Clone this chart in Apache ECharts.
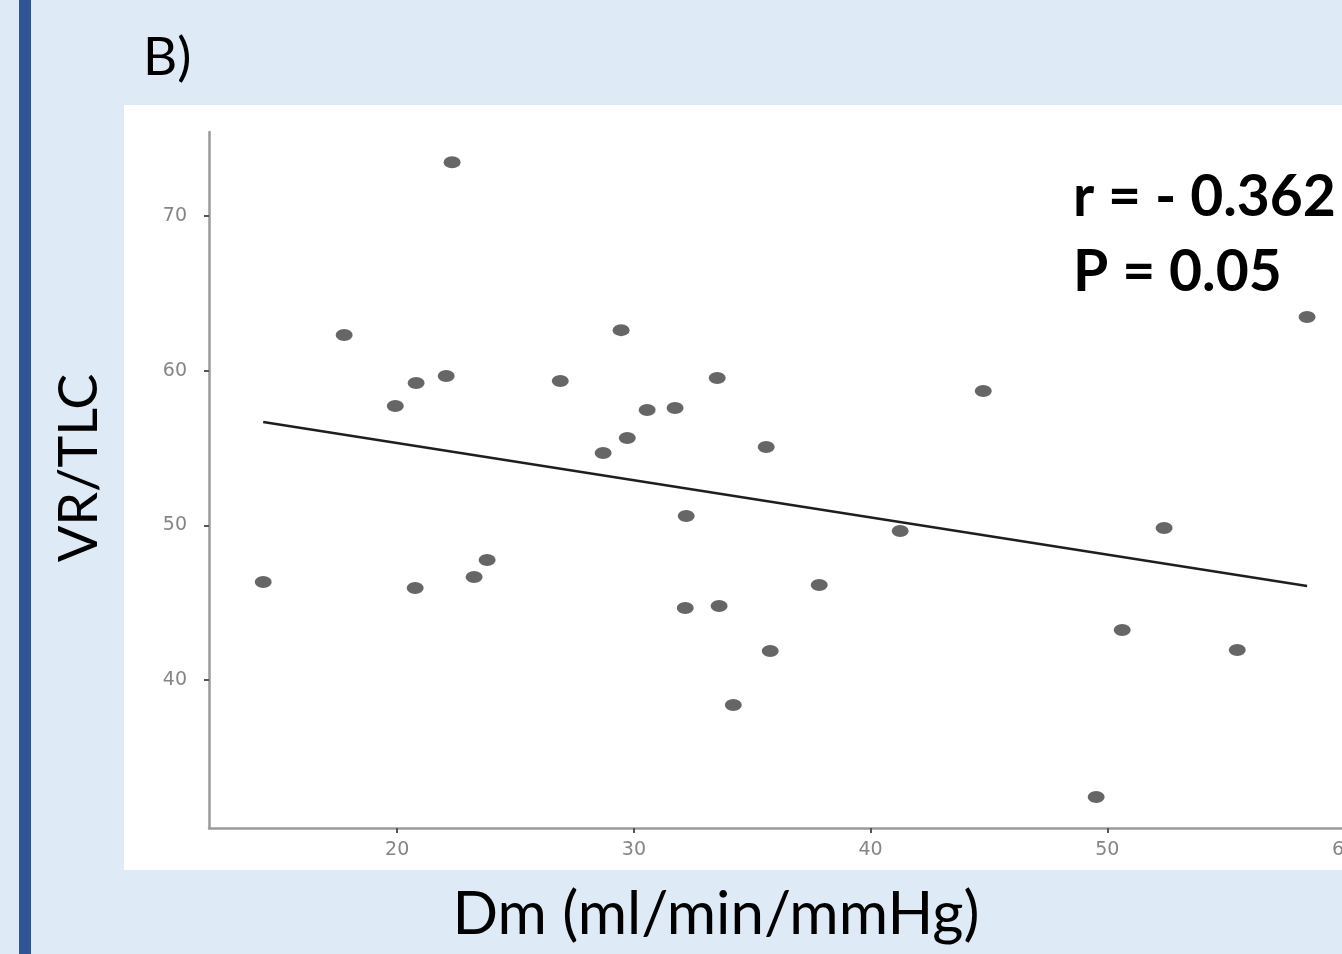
<!DOCTYPE html>
<html>
<head>
<meta charset="utf-8">
<script src="https://cdn.jsdelivr.net/npm/echarts@6/dist/echarts.min.js"></script>
<style>
html,body{margin:0;padding:0;background:#deeaf6;}
#chart{width:1342px;height:954px;}
</style>
</head>
<body>
<div id="chart"></div>
<script>
// Data
const dmValues = [14.34, 17.76, 19.92, 20.80, 20.76, 22.07, 22.32, 23.25, 23.80, 26.89,
  28.70, 29.46, 29.72, 30.56, 31.74, 32.21, 32.17, 33.52, 33.60, 34.20,
  35.59, 35.76, 37.83, 41.25, 44.76, 49.53, 50.63, 52.40, 55.49, 58.44];
const vrTlcValues = [46.33, 62.30, 57.71, 59.20, 45.95, 59.65, 73.48, 46.66, 47.76, 59.33,
  54.67, 62.62, 55.64, 57.45, 57.58, 50.60, 44.65, 59.52, 44.78, 38.38,
  55.06, 41.87, 46.14, 49.63, 58.68, 32.44, 43.23, 49.83, 41.94, 63.47];
const fitX = [14.34, 58.44];
const fitY = [56.68, 46.08];
const xTicks = [20, 30, 40, 50, 60];
const yTicks = [40, 50, 60, 70];
const panelLabel = 'B)';
const xTitle = 'Dm (ml/min/mmHg)';
const yTitle = 'VR/TLC';
const statR = 'r = - 0.362';
const statP = 'P = 0.05';

const chart = echarts.init(document.getElementById('chart'), null, {renderer: 'canvas'});
const scatterData = dmValues.map((x, i) => [x, vrTlcValues[i]]);
const fitData = fitX.map((x, i) => [x, fitY[i]]);
const titleFont = 'Lato, "Open Sans", sans-serif';

chart.setOption({
  backgroundColor: '#deeaf6',
  animation: false,
  grid: {left: 209, top: 132, right: -2, bottom: 126, containLabel: false, outerBoundsMode: 'none'},
  xAxis: {
    type: 'value', min: 12.05, max: 60,
    splitLine: {show: false},
    axisLine: {show: true, onZero: false, lineStyle: {color: '#9a9a9a', width: 2.5}},
    axisTick: {show: true, customValues: xTicks, length: 5, lineStyle: {color: '#555', width: 2}},
    axisLabel: {customValues: xTicks, color: '#858585', fontSize: 19, margin: 13, fontFamily: 'DejaVu Sans', showMaxLabel: true}
  },
  yAxis: {
    type: 'value', min: 30.43, max: 75.43,
    splitLine: {show: false},
    axisLine: {show: true, onZero: false, lineStyle: {color: '#9a9a9a', width: 2.5}},
    axisTick: {show: true, customValues: yTicks, length: 5, lineStyle: {color: '#555', width: 2}},
    axisLabel: {customValues: yTicks, color: '#858585', fontSize: 19, margin: 22, fontFamily: 'DejaVu Sans'}
  },
  graphic: [
    {type: 'rect', z: -10, silent: true, shape: {x: 0, y: 0, width: 1342, height: 954}, style: {fill: '#deeaf6'}},
    {type: 'rect', z: -9, silent: true, shape: {x: 19, y: 0, width: 12, height: 954}, style: {fill: '#2f5597'}},
    {type: 'rect', z: -9, silent: true, shape: {x: 124, y: 105, width: 1218, height: 765}, style: {fill: '#ffffff'}},
    {type: 'text', z: 10, x: 143, y: 58, style: {text: panelLabel, font: '53px ' + titleFont, fill: '#000', textVerticalAlign: 'middle'}},
    {type: 'text', z: 10, x: 716, y: 915, style: {text: xTitle, font: '60px ' + titleFont, fill: '#000', textAlign: 'center', textVerticalAlign: 'middle'}},
    {type: 'text', z: 10, x: 80, y: 468, rotation: Math.PI / 2, style: {text: yTitle, font: '54px ' + titleFont, fill: '#000', textAlign: 'center', textVerticalAlign: 'middle'}},
    {type: 'text', z: 10, x: 1073, y: 198, style: {text: statR, font: 'bold 57px ' + titleFont, fill: '#000', textVerticalAlign: 'middle'}},
    {type: 'text', z: 10, x: 1073, y: 273, style: {text: statP, font: 'bold 57px ' + titleFont, fill: '#000', textVerticalAlign: 'middle'}}
  ],
  series: [
    {
      type: 'scatter',
      data: scatterData,
      symbol: 'path://M0,10a10,10 0 1,0 20,0a10,10 0 1,0 -20,0',
      symbolSize: [17, 12],
      itemStyle: {color: '#404040'},
      z: 3
    },
    {
      type: 'line',
      data: fitData,
      showSymbol: false,
      symbol: 'none',
      lineStyle: {color: '#1e1e1e', width: 2.5},
      z: 2
    }
  ]
});
</script>
</body>
</html>
